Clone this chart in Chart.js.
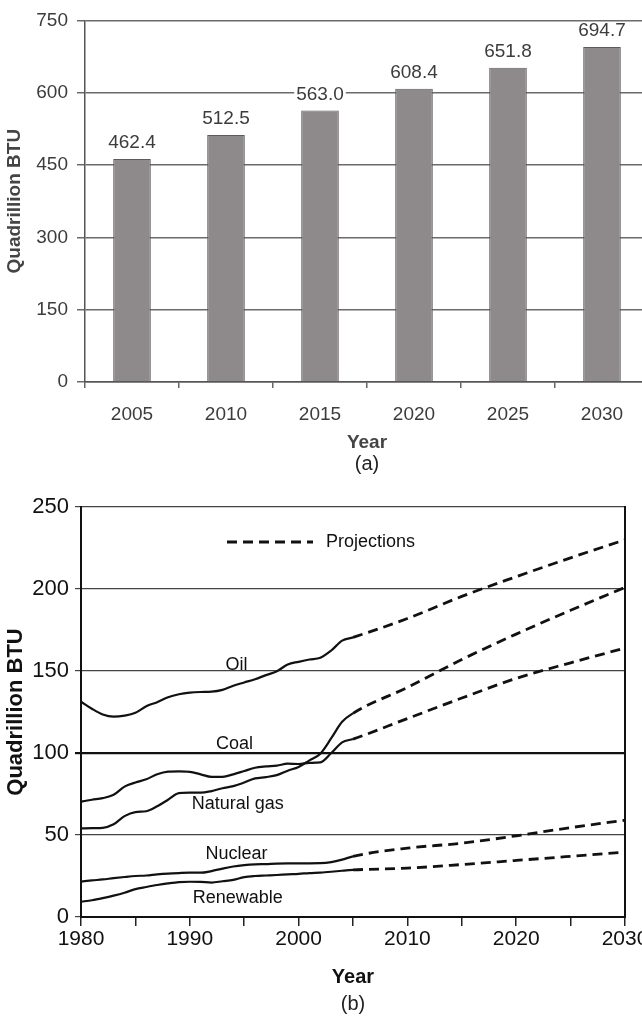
<!DOCTYPE html>
<html>
<head>
<meta charset="utf-8">
<script src="https://cdn.jsdelivr.net/npm/chart.js@4.4.1/dist/chart.umd.min.js"></script>
<style>
  html, body { margin: 0; padding: 0; background: #fff; overflow: hidden; width: 642px; height: 1017px; }
  #wrap { position: relative; width: 642px; height: 1017px; overflow: hidden; }
  #totalChart { position: absolute; left: 0; top: 0; filter: blur(0.5px); }
  #fuelChart { position: absolute; left: 0; top: 480px; }
  .cap { position: absolute; width: 80px; text-align: center; font-family: "Liberation Sans", Arial, sans-serif;
         font-size: 20px; line-height: 24px; color: #222; }
</style>
</head>
<body>
<div id="wrap">
  <canvas id="totalChart" width="660" height="455" style="width:660px;height:455px"></canvas>
  <canvas id="fuelChart" width="660" height="537" style="width:660px;height:537px"></canvas>
  <div class="cap" style="left:327px;top:451px">(a)</div>
  <div class="cap" style="left:313px;top:991px">(b)</div>
</div>
<script>
// ---- (a) total world energy consumption ----
const barYears  = ['2005', '2010', '2015', '2020', '2025', '2030'];
const barTotals = [462.4, 512.5, 563.0, 608.4, 651.8, 694.7];
const barTickStep = 150;
const barMax = 750;

// ---- (b) consumption by fuel, history and projections ----
const histYears = [1980, 1981, 1982, 1983, 1984, 1985, 1986, 1987, 1988, 1989,
                   1990, 1991, 1992, 1993, 1994, 1995, 1996, 1997, 1998, 1999,
                   2000, 2001, 2002, 2003, 2004, 2005];
const projYears = [2010, 2015, 2020, 2025, 2030];

const oilHist = [131.3, 127.0, 123.5, 122.2, 122.8, 124.5, 128.5, 131.0, 134.0, 135.8,
                 136.8, 137.2, 137.4, 138.5, 141.0, 143.0, 145.0, 147.5, 149.8, 154.0,
                 155.6, 157.0, 158.1, 162.5, 168.5, 170.5];
const oilProj = [182.0, 195.5, 207.5, 219.0, 230.0];

const coalHist = [70.3, 71.5, 72.5, 74.5, 79.5, 82.0, 84.0, 87.0, 88.6, 88.8,
                  88.5, 87.0, 85.5, 85.5, 87.0, 89.0, 91.0, 91.8, 92.3, 93.5,
                  93.3, 94.0, 94.3, 100.0, 106.5, 108.5];
const coalProj = [121.0, 133.5, 145.5, 155.0, 164.0];

const gasHist = [54.0, 54.2, 54.4, 56.5, 61.5, 64.0, 64.5, 67.5, 71.5, 75.5,
                 75.8, 75.8, 76.8, 78.5, 79.8, 82.0, 84.5, 85.3, 86.5, 89.2,
                 91.5, 95.5, 99.6, 109.0, 119.0, 124.2];
const gasProj = [140.0, 157.0, 172.5, 187.0, 201.0];

const nuclearHist = [21.6, 22.3, 22.9, 23.7, 24.4, 25.0, 25.3, 26.0, 26.5, 26.8,
                     27.0, 27.0, 28.0, 29.5, 30.8, 31.6, 32.1, 32.3, 32.6, 32.7,
                     32.7, 32.7, 32.8, 33.5, 35.0, 37.0];
const nuclearProj = [42.0, 45.0, 49.5, 54.5, 59.0];

const renewHist = [9.3, 10.2, 11.5, 13.0, 14.8, 17.0, 18.3, 19.5, 20.5, 21.3,
                   21.5, 21.4, 21.0, 21.8, 22.6, 24.3, 25.0, 25.3, 25.6, 26.0,
                   26.3, 26.8, 27.1, 27.6, 28.2, 28.7];
const renewProj = [29.8, 32.0, 34.5, 37.0, 39.5];

const lineTickStep = 50;
const lineMax = 250;
const lastHistYear = histYears[histYears.length - 1];

const FONT = '"Liberation Sans", Arial, Helvetica, sans-serif';

// value labels above the bars, on a white plate so gridlines break behind them
const barValueLabels = {
  id: 'barValueLabels',
  afterDatasetsDraw(chart) {
    const ctx = chart.ctx;
    const meta = chart.getDatasetMeta(0);
    ctx.save();
    ctx.font = '19px ' + FONT;
    ctx.textAlign = 'center';
    ctx.textBaseline = 'middle';
    meta.data.forEach((bar, i) => {
      const txt = barTotals[i].toFixed(1);
      const w = ctx.measureText(txt).width;
      const cy = bar.y - 16;
      ctx.fillStyle = '#fff';
      ctx.fillRect(bar.x - w / 2 - 2, cy - 8, w + 4, 16);
      ctx.fillStyle = '#3c3c3c';
      ctx.fillText(txt, bar.x, cy);
    });
    ctx.restore();
  }
};

new Chart(document.getElementById('totalChart'), {
  type: 'bar',
  data: {
    labels: barYears,
    datasets: [{
      data: barTotals,
      backgroundColor: '#8e8a8b',
      borderColor: '#5e5b5c',
      borderWidth: 1,
      categoryPercentage: 1,
      barPercentage: 0.4
    }]
  },
  options: {
    responsive: false,
    animation: false,
    events: [],
    layout: { padding: { top: 12, right: 11, left: 0, bottom: 0 } },
    plugins: { legend: { display: false }, tooltip: { enabled: false } },
    scales: {
      x: {
        grid: { offset: true, drawOnChartArea: false, drawTicks: true, tickLength: 6, color: '#666', lineWidth: 1.5 },
        border: { display: true, color: '#555', width: 1.5 },
        ticks: { font: { family: FONT, size: 19 }, color: '#3c3c3c', padding: 15 },
        title: { display: true, text: 'Year', font: { family: FONT, size: 19, weight: 'bold' }, color: '#444',
                 padding: { top: 0, bottom: 1 } },
        afterFit: s => { s.height = 73; }
      },
      y: {
        min: 0, max: barMax,
        ticks: { stepSize: barTickStep, font: { family: FONT, size: 19 }, color: '#3c3c3c', padding: 9 },
        grid: { color: '#6b6b6b', lineWidth: 1.5, tickLength: 8 },
        border: { color: '#555', width: 1.5 },
        title: { display: true, text: 'Quadrillion BTU', font: { family: FONT, size: 19, weight: 'bold' }, color: '#444',
                 padding: { top: 3, bottom: 0 } },
        afterFit: s => { s.width = 85; }
      }
    }
  },
  plugins: [barValueLabels]
});

// series captions, anchored in data units (year, quadrillion BTU)
const seriesCaptions = [
  { text: 'Oil',         at: [1994.3, 153.7] },
  { text: 'Coal',        at: [1994.1, 105.5] },
  { text: 'Natural gas', at: [1994.4, 68.9] },
  { text: 'Nuclear',     at: [1994.3, 38.4] },
  { text: 'Renewable',   at: [1994.4, 11.6] }
];

const PROJ_DASH = [10, 6];
const PROJ_WIDTH = 2.8;

const fuelAnnotations = {
  id: 'fuelAnnotations',
  afterDatasetsDraw(chart) {
    const { ctx, chartArea, scales } = chart;
    ctx.save();
    // legend entry for projected segments
    const ly = chartArea.top + 35;
    ctx.strokeStyle = '#111';
    ctx.lineWidth = PROJ_WIDTH;
    ctx.setLineDash(PROJ_DASH);
    ctx.beginPath();
    ctx.moveTo(chartArea.left + 146, ly);
    ctx.lineTo(chartArea.left + 232, ly);
    ctx.stroke();
    ctx.setLineDash([]);
    ctx.fillStyle = '#111';
    ctx.font = '18px ' + FONT;
    ctx.textAlign = 'left';
    ctx.textBaseline = 'middle';
    ctx.fillText('Projections', chartArea.left + 245, ly);
    // fuel names
    ctx.textAlign = 'center';
    seriesCaptions.forEach(c => {
      ctx.fillText(c.text, scales.x.getPixelForValue(c.at[0]), scales.y.getPixelForValue(c.at[1]));
    });
    ctx.restore();
  }
};

function fuelSeries(label, hist, proj) {
  const years = histYears.concat(projYears);
  const values = hist.concat(proj);
  const projected = c => c.p0.parsed.x >= lastHistYear;
  return {
    label,
    data: years.map((yr, i) => ({ x: yr, y: values[i] })),
    borderColor: '#111',
    borderWidth: 2.2,
    pointRadius: 0,
    fill: false,
    cubicInterpolationMode: 'monotone',
    segment: {
      borderDash: c => (projected(c) ? PROJ_DASH : undefined),
      borderWidth: c => (projected(c) ? PROJ_WIDTH : undefined)
    }
  };
}

new Chart(document.getElementById('fuelChart'), {
  type: 'line',
  data: {
    datasets: [
      fuelSeries('Oil', oilHist, oilProj),
      fuelSeries('Coal', coalHist, coalProj),
      fuelSeries('Natural gas', gasHist, gasProj),
      fuelSeries('Nuclear', nuclearHist, nuclearProj),
      fuelSeries('Renewable', renewHist, renewProj)
    ]
  },
  options: {
    responsive: false,
    animation: false,
    events: [],
    layout: { padding: { top: 27, right: 35, left: 0, bottom: 0 } },
    plugins: { legend: { display: false }, tooltip: { enabled: false } },
    scales: {
      x: {
        type: 'linear', min: 1980, max: 2030,
        ticks: { stepSize: 5, autoSkip: false, maxRotation: 0,
                 callback: v => (v % 10 === 0 ? String(v) : ''),
                 font: { family: FONT, size: 21 }, color: '#111', padding: 1 },
        grid: { drawOnChartArea: false, tickLength: 9, color: '#222', lineWidth: 1.5 },
        border: { color: '#111', width: 2 },
        title: { display: true, text: 'Year', font: { family: FONT, size: 20, weight: 'bold' }, color: '#111',
                 padding: { top: 0, bottom: 28 } },
        afterFit: s => { s.height = 100; }
      },
      y: {
        min: 0, max: lineMax,
        ticks: { stepSize: lineTickStep, font: { family: FONT, size: 22 }, color: '#111', padding: 6 },
        grid: {
          color: c => (c.tick && c.tick.value === 100 ? '#111' : '#444'),
          lineWidth: c => (c.tick && c.tick.value === 100 ? 2.2 : 1.2),
          tickLength: 6
        },
        border: { color: '#111', width: 2 },
        title: { display: true, text: 'Quadrillion BTU', font: { family: FONT, size: 22, weight: 'bold' }, color: '#111',
                 padding: { top: 3, bottom: 0 } },
        afterFit: s => { s.width = 81; }
      },
      frameRight: {
        position: 'right',
        display: true,
        ticks: { display: false },
        grid: { drawOnChartArea: false, drawTicks: false },
        border: { display: true, color: '#111', width: 2 },
        afterFit: s => { s.width = 0; }
      }
    }
  },
  plugins: [fuelAnnotations]
});
</script>
</body>
</html>
